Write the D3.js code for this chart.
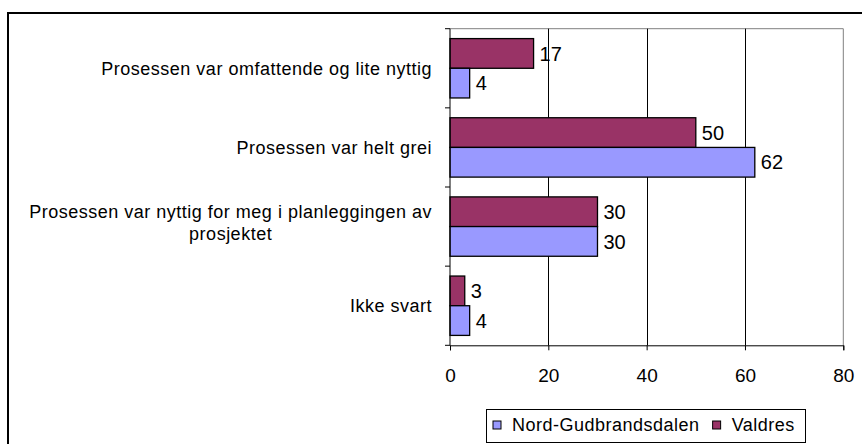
<!DOCTYPE html>
<html>
<head>
<meta charset="utf-8">
<script src="https://cdn.jsdelivr.net/npm/d3@7"></script>
<style>
  html, body { margin: 0; padding: 0; background: #fff; }
  svg { display: block; }
  text { font-family: "Liberation Sans", Arial, sans-serif; fill: #000; }
</style>
</head>
<body>
<svg id="chart" width="862" height="444"></svg>
<script>
const categories = [
  "Prosessen var omfattende og lite nyttig",
  "Prosessen var helt grei",
  "Prosessen var nyttig for meg i planleggingen av prosjektet",
  "Ikke svart"
];
const seriesNames = ["Valdres", "Nord-Gudbrandsdalen"];
const valdres = [17, 50, 30, 3];
const nordGudbrandsdalen = [4, 62, 30, 4];
const xTicks = [0, 20, 40, 60, 80];
const legendOrder = ["Nord-Gudbrandsdalen", "Valdres"];
const colors = { "Valdres": "#993366", "Nord-Gudbrandsdalen": "#9999FF" };

const seriesValues = { "Valdres": valdres, "Nord-Gudbrandsdalen": nordGudbrandsdalen };

(function () {
const svg = d3.select("#chart");
const fontSize = 18;
const valueFont = 20;
const tickFont = 19;
const letterSp = "0.5px";

// Outer chart border
svg.append("rect")
  .attr("x", 8).attr("y", 13)
  .attr("width", 870).attr("height", 450)
  .attr("fill", "#fff").attr("stroke", "#000").attr("stroke-width", 2);

const pL = 450, pR = 843.3, pT = 28.7, pB = 345.3;

const x = d3.scaleLinear().domain([0, 80]).range([pL, pR]);
const y = d3.scaleBand().domain(categories).range([pT, pB]).paddingInner(0.25).paddingOuter(0.125);
const yOuter = d3.scaleBand().domain(categories).range([pT, pB]);
const ySub = d3.scaleBand().domain(seriesNames).range([0, y.bandwidth()]);

// Plot border top/right gray
svg.append("path")
  .attr("d", `M${pL},${pT}H${pR}V${pB}`)
  .attr("fill", "none").attr("stroke", "#808080").attr("stroke-width", 1);

// gridlines
svg.append("g").selectAll("line")
  .data(xTicks.filter(t => t > 0 && t < 80))
  .join("line")
  .attr("x1", d => Math.round(x(d)) + 0.5).attr("x2", d => Math.round(x(d)) + 0.5)
  .attr("y1", pT).attr("y2", pB)
  .attr("stroke", "#000").attr("stroke-width", 1);

// bars
const groups = svg.append("g").selectAll("g")
  .data(categories)
  .join("g")
  .attr("transform", d => `translate(0,${y(d)})`);

groups.selectAll("rect")
  .data((c, i) => seriesNames.map(s => ({ s, v: seriesValues[s][i] })))
  .join("rect")
  .attr("x", x(0))
  .attr("y", d => ySub(d.s))
  .attr("width", d => x(d.v) - x(0))
  .attr("height", ySub.bandwidth())
  .attr("fill", d => colors[d.s])
  .attr("stroke", "#000").attr("stroke-width", 1.3);

groups.selectAll("text")
  .data((c, i) => seriesNames.map(s => ({ s, v: seriesValues[s][i] })))
  .join("text")
  .attr("x", d => x(d.v) + 6)
  .attr("y", d => ySub(d.s) + ySub.bandwidth() / 2)
  .attr("dy", "0.36em")
  .attr("font-size", valueFont)
  .text(d => d.v);

// X axis
const xAxis = svg.append("g")
  .attr("transform", `translate(0,${pB})`)
  .call(d3.axisBottom(x).tickValues(xTicks).tickSize(5).tickPadding(18));
xAxis.select(".domain").attr("stroke", "#000");
xAxis.selectAll("line").attr("stroke", "#000");
xAxis.selectAll("text").attr("font-size", tickFont).attr("font-family", "Liberation Sans, Arial, sans-serif").attr("fill", "#000");

// Y axis line and ticks at band boundaries
svg.append("line").attr("x1", pL).attr("x2", pL).attr("y1", pT).attr("y2", pB)
  .attr("stroke", "#000");
const boundaries = categories.map(c => yOuter(c)).concat([pB]);
svg.append("g").selectAll("line").data(boundaries).join("line")
  .attr("x1", pL - 5).attr("x2", pL).attr("y1", d => d).attr("y2", d => d)
  .attr("stroke", "#000");

// Category labels, wrapped and centered in a right-aligned block
const labelRight = 432, maxW = 410, lineH = 22;
categories.forEach(c => {
  const cy = yOuter(c) + yOuter.bandwidth() / 2;
  const words = c.split(" ");
  const tmp = svg.append("text").attr("font-size", fontSize).style("letter-spacing", letterSp);
  let lines = [], cur = "";
  words.forEach(w => {
    const test = cur ? cur + " " + w : w;
    tmp.text(test);
    if (tmp.node().getComputedTextLength() > maxW && cur) { lines.push(cur); cur = w; }
    else cur = test;
  });
  lines.push(cur);
  const widths = lines.map(l => { tmp.text(l); return tmp.node().getComputedTextLength(); });
  tmp.remove();
  const blockW = d3.max(widths);
  const centerX = labelRight - blockW / 2;
  const shift = lines.length > 1 ? -4 : 0;
  lines.forEach((l, i) => {
    svg.append("text")
      .attr("x", centerX)
      .attr("y", cy + shift + (i - (lines.length - 1) / 2) * lineH)
      .attr("dy", "0.36em")
      .attr("text-anchor", "middle")
      .attr("font-size", fontSize)
      .style("letter-spacing", letterSp)
      .text(l);
  });
});

// Legend
const legend = svg.append("g");
legend.append("rect").attr("x", 486.5).attr("y", 409.5).attr("width", 319).attr("height", 33)
  .attr("fill", "#fff").attr("stroke", "#000").attr("stroke-width", 1);
let lx = 493;
legendOrder.forEach(name => {
  legend.append("rect").attr("x", lx).attr("y", 421).attr("width", 8).attr("height", 8)
    .attr("fill", colors[name]).attr("stroke", "#000").attr("stroke-width", 1);
  const t = legend.append("text").attr("x", lx + 19).attr("y", 425).attr("dy", "0.36em")
    .attr("font-size", fontSize).style("letter-spacing", letterSp).text(name);
  lx = lx + 19 + t.node().getComputedTextLength() + 13;
});
})();
</script>
</body>
</html>
